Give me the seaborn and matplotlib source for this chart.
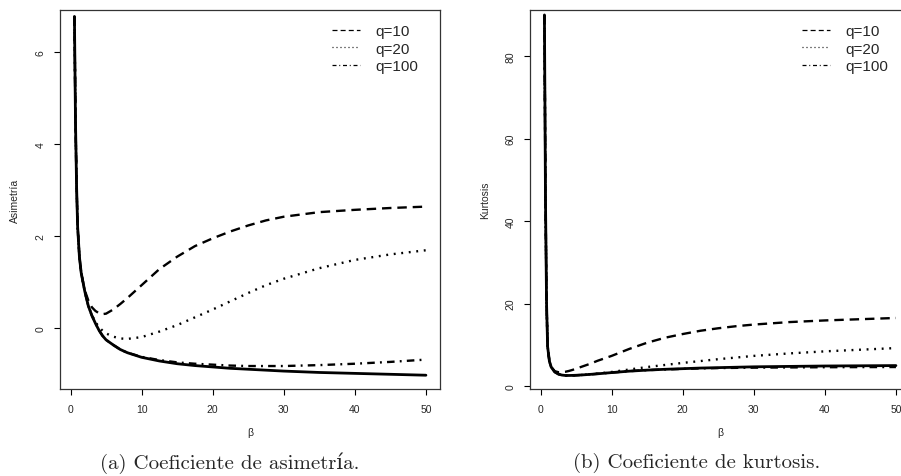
import matplotlib
matplotlib.use("Agg")
import matplotlib.pyplot as plt
import seaborn as sns

# ---------------- data ----------------
beta = [0.55, 0.7, 0.85, 1.0, 1.25, 1.5, 2, 2.5, 3, 3.5, 4, 4.5, 5, 6, 7, 8,
        10, 12.5, 15, 17.5, 20, 22.5, 25, 27.5, 30, 35, 40, 45, 50]

# (a) skewness
asim_lim = [6.78, 4.5, 3.1, 2.2, 1.55, 1.2, 0.8, 0.48, 0.27, 0.1, -0.05, -0.17, -0.26, -0.37, -0.47, -0.54,
            -0.64, -0.72, -0.78, -0.82, -0.85, -0.88, -0.9, -0.92, -0.94, -0.97, -0.99, -1.01, -1.03]
asim_q10 = [6.78, 4.5, 3.1, 2.2, 1.55, 1.2, 0.82, 0.6, 0.45, 0.37, 0.32, 0.3, 0.31, 0.4, 0.52, 0.65,
            0.93, 1.28, 1.55, 1.78, 1.95, 2.1, 2.23, 2.34, 2.42, 2.52, 2.57, 2.61, 2.64]
asim_q20 = [6.78, 4.5, 3.1, 2.2, 1.55, 1.2, 0.8, 0.48, 0.28, 0.13, 0.02, -0.06, -0.12, -0.19, -0.23, -0.24,
            -0.2, -0.08, 0.06, 0.23, 0.4, 0.58, 0.76, 0.93, 1.07, 1.3, 1.48, 1.6, 1.69]
asim_q100 = [6.78, 4.5, 3.1, 2.2, 1.55, 1.2, 0.8, 0.48, 0.27, 0.1, -0.05, -0.17, -0.26, -0.37, -0.47, -0.54,
             -0.63, -0.7, -0.75, -0.78, -0.8, -0.82, -0.83, -0.83, -0.83, -0.81, -0.78, -0.74, -0.69]

# (b) kurtosis
kurt_lim = [90, 45, 20, 9.5, 6, 4.6, 3.4, 2.9, 2.65, 2.55, 2.55, 2.57, 2.6, 2.7, 2.82, 2.95,
            3.25, 3.6, 3.85, 4.05, 4.2, 4.35, 4.45, 4.55, 4.65, 4.75, 4.85, 4.9, 4.95]
kurt_q10 = [90, 45, 20, 9.5, 6, 4.6, 3.6, 3.35, 3.35, 3.45, 3.65, 3.9, 4.2, 4.8, 5.4, 6.1,
            7.3, 9.0, 10.5, 11.7, 12.6, 13.4, 14.0, 14.5, 14.9, 15.5, 15.9, 16.2, 16.5]
kurt_q20 = [90, 45, 20, 9.5, 6, 4.6, 3.4, 2.9, 2.65, 2.55, 2.55, 2.57, 2.6, 2.7, 2.85, 3.0,
            3.4, 4.0, 4.6, 5.1, 5.6, 6.05, 6.5, 6.9, 7.3, 7.9, 8.4, 8.8, 9.2]
kurt_q100 = [90, 45, 20, 9.5, 6, 4.6, 3.4, 2.9, 2.65, 2.55, 2.55, 2.57, 2.6, 2.7, 2.82, 2.95,
             3.25, 3.6, 3.85, 4.0, 4.15, 4.27, 4.35, 4.4, 4.45, 4.5, 4.55, 4.58, 4.6]

series_labels = ["q=10", "q=20", "q=100"]
x_ticks = [0, 10, 20, 30, 40, 50]
asim_ticks = [0, 2, 4, 6]
kurt_ticks = [0, 20, 40, 60, 80]

# ---------------- style ----------------
sns.set_style("white")
plt.rcParams["font.family"] = ["Liberation Sans", "DejaVu Sans"]

W, H = 901, 477
fig = plt.figure(figsize=(W / 100, H / 100), dpi=100)

ls_dash = (0, (4, 2.5))
ls_dot = (0, (0.8, 2.4))
ls_dashdot = (0, (3.2, 2.2, 0.8, 2.2))
lw = 1.7


def panel(ax, lim, q10, q20, q100, yticks, ylim, ylabel):
    sns.lineplot(x=beta, y=q10, ax=ax, color="black", lw=lw, linestyle=ls_dash, label=series_labels[0])
    sns.lineplot(x=beta, y=q20, ax=ax, color="black", lw=lw, linestyle=ls_dot, label=series_labels[1])
    sns.lineplot(x=beta, y=q100, ax=ax, color="black", lw=lw, linestyle=ls_dashdot, label=series_labels[2])
    sns.lineplot(x=beta, y=lim, ax=ax, color="black", lw=lw + 0.3, linestyle="-")
    ax.set_xlim(-1.48, 51.98)
    ax.set_ylim(*ylim)
    ax.set_xticks(x_ticks)
    ax.set_yticks(yticks)
    ax.tick_params(axis="both", which="both", direction="out", length=4.5, width=0.8,
                   labelsize=7.5, pad=6, bottom=True, left=True, color="black")
    ax.tick_params(axis="y", labelrotation=90)
    for lab in ax.get_yticklabels():
        lab.set_verticalalignment("center")
    for sp in ax.spines.values():
        sp.set_visible(True)
        sp.set_color("#333333")
        sp.set_linewidth(0.9)
    ax.set_xlabel("β", fontsize=7.5)
    ax.set_ylabel(ylabel, fontsize=7.5)
    ax.xaxis.set_label_coords(0.5, -0.1)
    ax.yaxis.set_label_coords(-0.105, 0.5)
    leg = ax.legend(loc="upper right", bbox_to_anchor=(0.958, 0.978), borderaxespad=0,
                    frameon=False, fontsize=11, handlelength=1.8, handletextpad=1.0,
                    labelspacing=0.22)
    for h in leg.get_lines():
        h.set_linewidth(0.9)


ax1 = fig.add_axes([60 / W, (H - 390) / H, 380 / W, 379 / H])
panel(ax1, asim_lim, asim_q10, asim_q20, asim_q100, asim_ticks, (-1.33, 6.92), "Asimetría")

ax2 = fig.add_axes([530 / W, (H - 390) / H, 380 / W, 379 / H])
panel(ax2, kurt_lim, kurt_q10, kurt_q20, kurt_q100, kurt_ticks, (-0.73, 91.2), "Kurtosis")

cap_font = ["cmr10", "DejaVu Serif"]
fig.text(230 / W, 1 - 463 / H, "(a) Coeficiente de asimetría.", ha="center", va="center",
         fontsize=15, family=cap_font)
fig.text(697 / W, 1 - 463 / H, "(b) Coeficiente de kurtosis.", ha="center", va="center",
         fontsize=15, family=cap_font)

fig.savefig("out.png", dpi=100)
